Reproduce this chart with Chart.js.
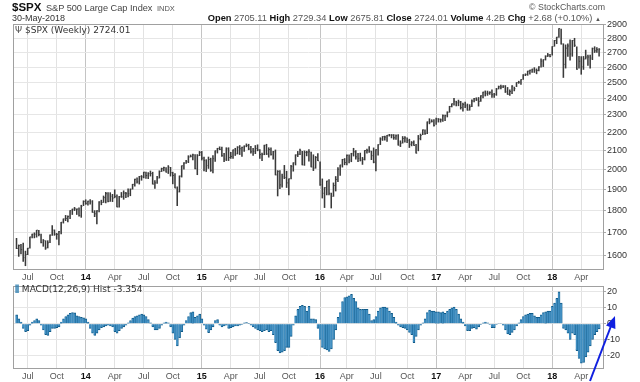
<!DOCTYPE html>
<html>
<head>
<meta charset="utf-8">
<script src="https://cdn.jsdelivr.net/npm/chart.js@4/dist/chart.umd.min.js"></script>
<style>
  body { margin: 0; background: #fff; }
  #wrap { position: relative; width: 640px; height: 382px; overflow: hidden; font-family: 'Liberation Sans', Arial, sans-serif; }
  canvas { position: absolute; left: 0; }
  .txt { position: absolute; white-space: nowrap; z-index: 3; line-height: 1; }
  .lg { font-family: 'DejaVu Sans', sans-serif; font-size: 9px; color: #333; }
  b { color: #111; }
</style>
</head>
<body>
<div id="wrap">
  <canvas id="main" width="640" height="283" style="top:0"></canvas>
  <canvas id="macd" width="640" height="102" style="top:280px"></canvas>

  <div class="txt" style="left:12px;top:0px;line-height:12px"><b style="font-size:11.5px">$SPX</b> <span style="font-size:9.2px;color:#444">S&amp;P 500 Large Cap Index</span> <span style="font-size:7.5px;color:#555">INDX</span></div>
  <div class="txt" style="left:12px;top:14px;font-size:9px;color:#333">30-May-2018</div>
  <div class="txt" style="right:35px;top:3px;font-size:8.8px;color:#555">© StockCharts.com</div>
  <div class="txt" style="right:39px;top:14px;font-size:9.3px;color:#555"><b>Open</b> 2705.11 <b>High</b> 2729.34 <b>Low</b> 2675.81 <b>Close</b> 2724.01 <b>Volume</b> 4.2B <b>Chg</b> +2.68 (+0.10%) <span style="font-size:6px">▲</span></div>

  <div class="txt lg" style="left:15px;top:26px"><span style="color:#555">Ψ</span> $SPX (Weekly) 2724.01</div>
  <div class="txt lg" style="left:15px;top:285px"><span style="color:#2f7fb0;font-weight:bold">⫼</span> MACD(12,26,9) Hist -3.354</div>

  <svg class="txt" width="640" height="382" style="left:0;top:0;z-index:4">
    <line x1="590" y1="381" x2="611" y2="326" stroke="#1020e0" stroke-width="2"/>
    <polygon points="615,316 615.4,329 606,325.4" fill="#1020e0"/>
  </svg>
</div>

<script>
// weekly bars, first week ending 2013-05-31, last 2018-06-01 (partial)
const hi = [
  1674,1646,1648,1654,1620,1632,1680,1693,1698,1709,
  1709,1693,1669,1664,1664,1689,1730,1711,1696,1704,
  1745,1760,1776,1774,1798,1805,1813,1806,1811,1823,
  1844,1849,1843,1850,1845,1798,1798,1840,1847,1867,
  1884,1883,1883,1875,1897,1872,1865,1884,1892,1885,
  1902,1901,1924,1950,1956,1964,1968,1985,1985,1983,
  1991,1985,1943,1964,1992,2006,2011,2008,2019,2010,
  1985,1978,1912,1966,2018,2034,2046,2071,2075,2079,
  2077,2077,2094,2094,2064,2050,2064,2058,2072,2097,
  2111,2119,2117,2083,2114,2114,2089,2103,2111,2120,
  2126,2117,2124,2135,2133,2121,2110,2126,2130,2104,
  2085,2128,2133,2114,2113,2094,2102,1993,1993,1975,
  2020,1990,1951,2020,2034,2076,2094,2106,2094,2097,
  2095,2104,2090,2076,2067,2082,2038,1951,1908,1940,
  1947,1881,1931,1963,2009,2022,2052,2056,2075,2075,
  2084,2111,2099,2084,2085,2062,2099,2106,2120,2096,
  2113,2104,2131,2169,2176,2178,2183,2188,2187,2187,
  2185,2187,2152,2176,2175,2169,2161,2148,2152,2132,
  2182,2190,2214,2214,2260,2278,2272,2273,2282,2279,
  2277,2301,2300,2319,2352,2367,2401,2383,2390,2382,
  2371,2378,2366,2362,2392,2400,2404,2406,2418,2440,
  2447,2446,2442,2454,2432,2463,2478,2484,2480,2481,
  2469,2454,2480,2471,2500,2509,2520,2552,2557,2575,
  2582,2588,2598,2590,2605,2657,2652,2679,2695,2689,
  2743,2787,2810,2873,2870,2763,2755,2762,2790,2787,
  2802,2741,2675,2673,2674,2718,2683,2683,2733,2742,
  2736,2729
];
const lo = [
  1630,1598,1608,1577,1560,1605,1632,1676,1676,1679,
  1684,1654,1640,1627,1633,1655,1687,1687,1670,1646,
  1693,1741,1752,1746,1761,1780,1798,1780,1772,1767,
  1821,1827,1823,1828,1790,1770,1737,1792,1825,1836,
  1834,1839,1841,1840,1858,1815,1814,1860,1851,1859,
  1862,1868,1900,1915,1930,1925,1944,1956,1953,1952,
  1965,1925,1904,1928,1955,1988,1991,1985,1978,1965,
  1926,1906,1821,1886,1960,2001,2030,2034,2064,2049,
  2002,1972,2071,2048,1992,1988,2004,1989,1981,2041,
  2085,2103,2067,2039,2045,2045,2056,2057,2072,2080,
  2077,2067,2094,2119,2103,2085,2072,2082,2097,2057,
  2044,2076,2077,2063,2074,2052,1971,1867,1903,1910,
  1952,1908,1872,1951,1990,2022,2066,2076,2022,2020,
  2070,2042,2012,1993,2005,2044,1918,1857,1812,1872,
  1872,1810,1865,1891,1937,1969,2011,2023,2022,2033,
  2039,2069,2053,2039,2043,2025,2048,2085,2089,2050,
  2033,1992,2074,2131,2154,2155,2148,2178,2168,2160,
  2160,2128,2120,2139,2145,2142,2115,2124,2126,2084,
  2097,2157,2186,2187,2192,2248,2258,2234,2245,2258,
  2258,2262,2267,2288,2316,2348,2358,2354,2355,2335,
  2322,2344,2328,2328,2349,2378,2387,2353,2382,2403,
  2415,2419,2425,2406,2407,2419,2459,2459,2468,2437,
  2425,2418,2429,2447,2474,2495,2488,2520,2545,2547,
  2555,2566,2566,2557,2576,2601,2605,2649,2673,2670,
  2682,2745,2763,2808,2759,2533,2595,2675,2648,2675,
  2743,2586,2594,2554,2586,2656,2613,2594,2652,2701,
  2702,2676
];
const cl = [
  1631,1643,1626,1593,1606,1632,1680,1692,1692,1710,
  1691,1656,1664,1633,1655,1688,1710,1692,1691,1703,
  1745,1760,1762,1771,1798,1805,1806,1805,1775,1818,
  1841,1832,1842,1839,1790,1783,1797,1838,1836,1859,
  1878,1841,1866,1857,1865,1815,1864,1863,1881,1878,
  1878,1900,1924,1949,1936,1963,1961,1985,1968,1978,
  1978,1925,1931,1955,1988,2003,2008,1985,2011,1982,
  1968,1906,1887,1965,2018,2032,2039,2064,2068,2075,
  2003,2071,2089,2058,2045,2019,2051,1995,2055,2097,
  2110,2105,2071,2053,2108,2061,2067,2102,2081,2117,
  2108,2116,2123,2126,2107,2092,2094,2110,2102,2077,
  2077,2127,2080,2104,2078,2092,1971,1989,1921,1961,
  1958,1931,1951,2014,2033,2075,2079,2099,2023,2089,
  2090,2092,2012,2006,2061,2044,1922,1880,1907,1940,
  1880,1865,1918,1948,2000,2022,2050,2035,2073,2048,
  2081,2092,2065,2057,2047,2052,2099,2099,2096,2071,
  2037,2103,2130,2162,2175,2173,2183,2184,2184,2169,
  2180,2128,2139,2165,2168,2153,2133,2141,2126,2085,
  2164,2182,2213,2192,2259,2258,2263,2239,2277,2275,
  2271,2295,2297,2316,2351,2367,2383,2373,2378,2344,
  2363,2355,2329,2349,2384,2399,2391,2382,2416,2439,
  2432,2433,2438,2423,2425,2459,2473,2472,2477,2441,
  2426,2443,2477,2461,2500,2502,2519,2549,2553,2575,
  2581,2588,2582,2579,2602,2642,2652,2676,2684,2674,
  2743,2786,2810,2873,2762,2620,2732,2747,2691,2786,
  2752,2588,2641,2604,2656,2670,2670,2663,2728,2713,
  2721,2724
];
// MACD(12,26,9) histogram
const hist = [
  5.5,3,1,-3,-5,-4.5,-1,1,2,3,
  2,-1,-4,-7,-7.4,-5,-3,-3,-2.5,-2,
  1,3,4.5,5.5,6.5,7,6.8,5,4.5,4,
  3.6,3,1,-3,-6,-7.4,-6,-4,-2.5,-2,
  -1.5,-1,-1.5,-2,-5,-6,-4.5,-3,-2,-1,
  0.5,2,3.5,4.5,5,5.5,6,5.5,4.5,2.5,
  0.5,-2,-4,-4,-3,-1,0.5,1,0.5,-2,
  -6,-10,-14,-9,-5,-1,2,4.5,7,7.5,
  4,5,6,3,-1,-3.5,-5.7,-4,-2,2,
  2.5,-1,-2,-1.5,-1,-3,-2.5,-2,-1.5,-1.5,
  -1,-0.5,0.5,0.7,0.2,-1,-2,-3,-4,-4.5,
  -5,-4.5,-4,-5,-4.5,-7,-12,-17,-18.5,-18,
  -17,-15,-15,-8,-1,5,9,11,11.5,11,
  8,11,3,3,2.5,-3,-10,-15,-16,-16.5,
  -17.5,-16,-10,-4,4,7,14,16.5,17,17.5,
  18.5,16,14,10,9,9,9,9,6,2,
  2.5,4.5,8,10,10.5,10.5,10,8,6.5,4,
  1,-1,-2,-2.5,-3,-4,-5.5,-7,-12,-8,
  -4,-1,0.5,3,7,8.5,8,8,7.5,7.5,
  7,7.5,6.5,8,9,10,10.5,9,6,3,
  1,-1.5,-4.5,-4.5,-3,-2.5,-3.5,-2,-0.5,0.5,
  1,0.5,-0.5,-2.5,-2.5,-0.5,0.3,0.3,-1,-4,
  -6.5,-7,-5.5,-4,-1.5,0.5,2.5,4.5,5.5,6,
  6.5,6.5,5,4,4,5.5,7,7.5,8,8,
  11,13,16,20,13,-3,-4,-6,-10,-6,
  -7,-17,-22,-25,-24.5,-21,-18,-14,-10,-7,
  -5,-3.354
];
// x-axis labels: bar index of the first week of each quarter
const tickIdx  = [5, 18, 31, 44, 57, 70, 83, 96, 109, 122, 136, 148, 161, 175, 188, 201, 214, 227, 240, 253];
const tickText = ['Jul','Oct','14','Apr','Jul','Oct','15','Apr','Jul','Oct','16','Apr','Jul','Oct','17','Apr','Jul','Oct','18','Apr'];
const priceTicks = [1600,1700,1800,1900,2000,2100,2200,2300,2400,2500,2600,2700,2800,2900];
const histTicks = [20, 10, 0, -10, -20];

const isYear = i => /^\d+$/.test(tickText[i]);

const frame = {
  id: 'frame',
  afterDraw(chart) {
    const a = chart.chartArea, ctx = chart.ctx;
    ctx.save();
    ctx.strokeStyle = '#a0a0a0';
    ctx.lineWidth = 1;
    ctx.strokeRect(Math.round(a.left) + 0.5, Math.round(a.top) + 0.5, Math.round(a.width) - 1, Math.round(a.height) - 1);
    ctx.restore();
  }
};

function xAxis() {
  return {
    type: 'linear', min: -1.57, max: 263.2, offset: false,
    afterBuildTicks: s => { s.ticks = tickIdx.map(v => ({ value: v })); },
    afterFit: s => { s.height = 13; },
    ticks: {
      autoSkip: false, maxRotation: 0, minRotation: 0, padding: 2,
      callback: v => tickText[tickIdx.indexOf(v)],
      font: c => ({ family: 'Liberation Sans', size: 9, weight: isYear(c.index) ? 'bold' : 'normal' }),
      color: c => isYear(c.index) ? '#111' : '#555'
    },
    grid: { offset: false, color: c => isYear(c.index) ? '#c4c4c4' : '#e2e2e2', drawTicks: false },
    border: { display: false }
  };
}

function yAxis(min, max, ticks, type) {
  return {
    type, position: 'right', min, max,
    afterBuildTicks: s => { s.ticks = ticks.map(v => ({ value: v })); },
    afterFit: s => { s.width = 36; },
    ticks: { callback: v => String(v), font: { family: 'Liberation Sans', size: 9 }, color: '#333', padding: 1 },
    grid: { color: '#e6e6e6', tickLength: 2, tickColor: '#aaa' },
    border: { display: false }
  };
}

const common = {
  responsive: false, animation: false, devicePixelRatio: 1,
  plugins: { legend: { display: false }, tooltip: { enabled: false } }
};

new Chart(document.getElementById('main'), {
  type: 'bar',
  data: {
    datasets: [
      {
        type: 'bar',
        data: hi.map((h, i) => ({ x: i, y: [lo[i], h] })),
        backgroundColor: '#3a3a3a',
        barThickness: 0.9
      },
      {
        type: 'scatter',
        data: cl.map((c, i) => ({ x: i, y: c })),
        pointStyle: 'dash', pointRadius: 1.2, pointBorderWidth: 1,
        pointBorderColor: '#555', showLine: false
      }
    ]
  },
  options: {
    ...common,
    layout: { padding: { left: 13, top: 24, right: 0, bottom: 0 } },
    scales: { x: xAxis(), y: yAxis(1543, 2907, priceTicks, 'logarithmic') }
  },
  plugins: [frame]
});

new Chart(document.getElementById('macd'), {
  type: 'bar',
  data: {
    datasets: [{
      data: hist.map((v, i) => ({ x: i, y: v })),
      backgroundColor: '#3f8dc0',
      borderColor: '#0f5a88',
      borderWidth: { top: 1, bottom: 1, left: 0, right: 0.6 },
      barPercentage: 1, categoryPercentage: 1
    }]
  },
  options: {
    ...common,
    layout: { padding: { left: 13, top: 2, right: 0, bottom: 0 } },
    scales: { x: xAxis(), y: yAxis(-28.6, 23.5, histTicks, 'linear') }
  },
  plugins: [frame]
});
</script>
</body>
</html>
